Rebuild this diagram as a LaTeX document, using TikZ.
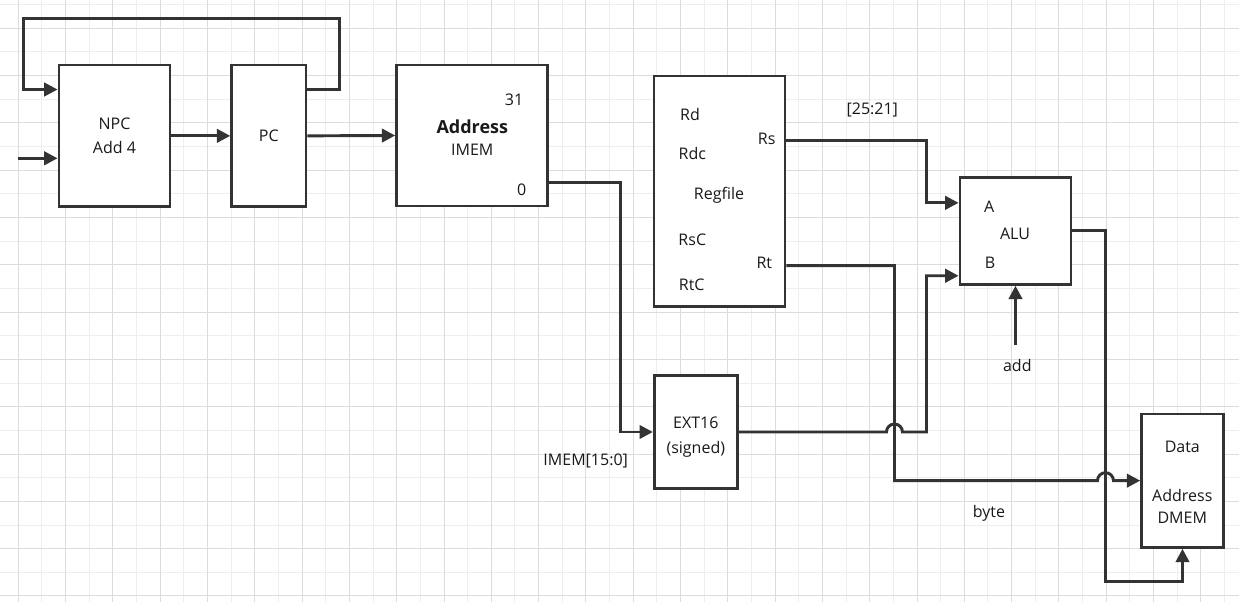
\documentclass[tikz,border=0pt]{standalone}
\usepackage{fontspec}
\setmainfont{Open Sans}
\usetikzlibrary{arrows.meta,calc}
\definecolor{ink}{HTML}{333333}
\definecolor{gridminor}{HTML}{EEEEEE}
\definecolor{gridmajor}{HTML}{DCDCDC}
\begin{document}
\begin{tikzpicture}[x=0.75pt,y=-0.75pt,
    font=\fontsize{12}{18}\selectfont,
    main node/.style={draw=ink,line width=2.2pt,fill=white,align=center,inner sep=0pt,text=black!90},
    port/.style={inner sep=0pt,text=black!90},
    wire/.style={draw=ink,line width=2.2pt},
    arr/.style={wire,-{Triangle[length=10pt,width=10pt]}}]
  \fill[white] (0,0) rectangle (1239,602);
  \useasboundingbox (0,0) rectangle (1239,602);
  % grid
  \foreach \i in {1,3,...,51} \draw[gridminor,line width=0.75pt] (18.3+23.65*\i,0) -- ++(0,602);
  \foreach \i in {0,2,...,24} \draw[gridminor,line width=0.75pt] (0,4.7+23.65*\i) -- ++(1239,0);
  \foreach \i in {0,2,...,50} \draw[gridmajor,line width=0.75pt] (18.3+23.65*\i,0) -- ++(0,602);
  \foreach \i in {1,3,...,25} \draw[gridmajor,line width=0.75pt] (0,4.7+23.65*\i) -- ++(1239,0);

  % blocks
  \node[main node,minimum width=83.25pt,minimum height=106.3pt] (npc) at (114.5,135.85) {NPC\\Add 4};
  \node[main node,minimum width=55.7pt,minimum height=106.3pt] (pc) at (268.85,135.85) {PC};
  \node[main node,minimum width=113.25pt,minimum height=105.75pt] (imem) at (472.2,135.5) {};
  \node[main node,minimum width=98.25pt,minimum height=173pt] (rf) at (719.5,191.35) {};
  \node[main node,minimum width=83.25pt,minimum height=80.25pt] (alu) at (1015.5,230.8) {};
  \node[main node,minimum width=62.25pt,minimum height=84.45pt] (ext) at (695.8,432) {};
  \node[main node,minimum width=61.2pt,minimum height=100pt] (dmem) at (1182.5,480.65) {};

  % texts inside blocks
  \node[port,font=\fontsize{13.5}{16}\selectfont\bfseries] (L1) at (472.3,126.7) {Address};
  \node[port] (L2) at (472.3,150) {IMEM};
  \node[port] (L3) at (514,100) {31};
  \node[port] (L4) at (521.7,190) {0};
  \node[port] (L5) at (690,115) {Rd};
  \node[port] (L6) at (692.3,153.3) {Rdc};
  \node[port] (L7) at (719,195.5) {Regfile};
  \node[port] (L8) at (692.3,239.3) {RsC};
  \node[port] (L9) at (691.7,285) {RtC};
  \node[port] (L10) at (766.7,139.3) {Rs};
  \node[port] (L11) at (764.3,262.7) {Rt};
  \node[port] (L12) at (989.3,206.7) {A};
  \node[port] (L13) at (1015,233.5) {ALU};
  \node[port] (L14) at (990,262.7) {B};
  \node[port,align=center,font=\fontsize{12}{18.3}\selectfont] (L15) at (695.8,437) {EXT16\\(signed)};
  \node[port] (L16) at (1182.3,446.7) {Data};
  \node[port,align=center,font=\fontsize{12}{16.5}\selectfont] (L17) at (1182.3,506) {Address\\DMEM};

  % free labels
  \node[port] (L18) at (872.3,110) {[25:21]};
  \node[port] (L19) at (585.7,460.7) {IMEM[15:0]};
  \node[port] (L20) at (989,513.3) {byte};
  \node[port] (L21) at (1017.3,366) {add};

  % ports and bends
  \coordinate (in) at (18,158.3);
  \coordinate (loop) at (23.3,18.3);
  \coordinate (rs) at ($(rf.north east)+(0,65.7)$);
  \coordinate (rt) at ($(rf.north east)+(0,191)$);
  \coordinate (rsv) at ($(rs)+(140,0)$);
  \coordinate (rtv) at ($(rt)+(108,0)$);
  \coordinate (aluo) at ($(alu.east)+(33,0)$);

  % wires
  \draw[arr] (in) -- (in -| npc.west);
  \draw[arr] (npc.east) -- (pc.west);
  \draw[arr] (pc.east) -- (imem.west);
  \draw[arr] ($(pc.north east)+(0,26)$) -- ++(32,0) |- (loop) |- ($(npc.north west)+(0,26)$);
  \draw[arr] ($(imem.south east)+(0,-25)$) -- ++(71,0) |- (ext.west);
  \draw[arr] (rs) -- (rsv) |- ($(alu.north west)+(0,27)$);
  \draw[arr] (rt) -- (rtv) |- ($(aluo |- dmem.west)+(-8,0)$) arc[start angle=180,end angle=360,radius=8] -- (dmem.west);
  \draw[arr] (ext.east) -- ($(rtv |- ext.east)+(-8,0)$) arc[start angle=180,end angle=360,radius=8] -- (rsv |- ext.east) |- ($(alu.south west)+(0,-10)$);
  \draw[arr] (alu.east) -- (aluo) |- ($(dmem.south)+(0,33)$) -- (dmem.south);
  \draw[arr] ($(alu.south)+(0,59)$) -- (alu.south);
\end{tikzpicture}
\end{document}
